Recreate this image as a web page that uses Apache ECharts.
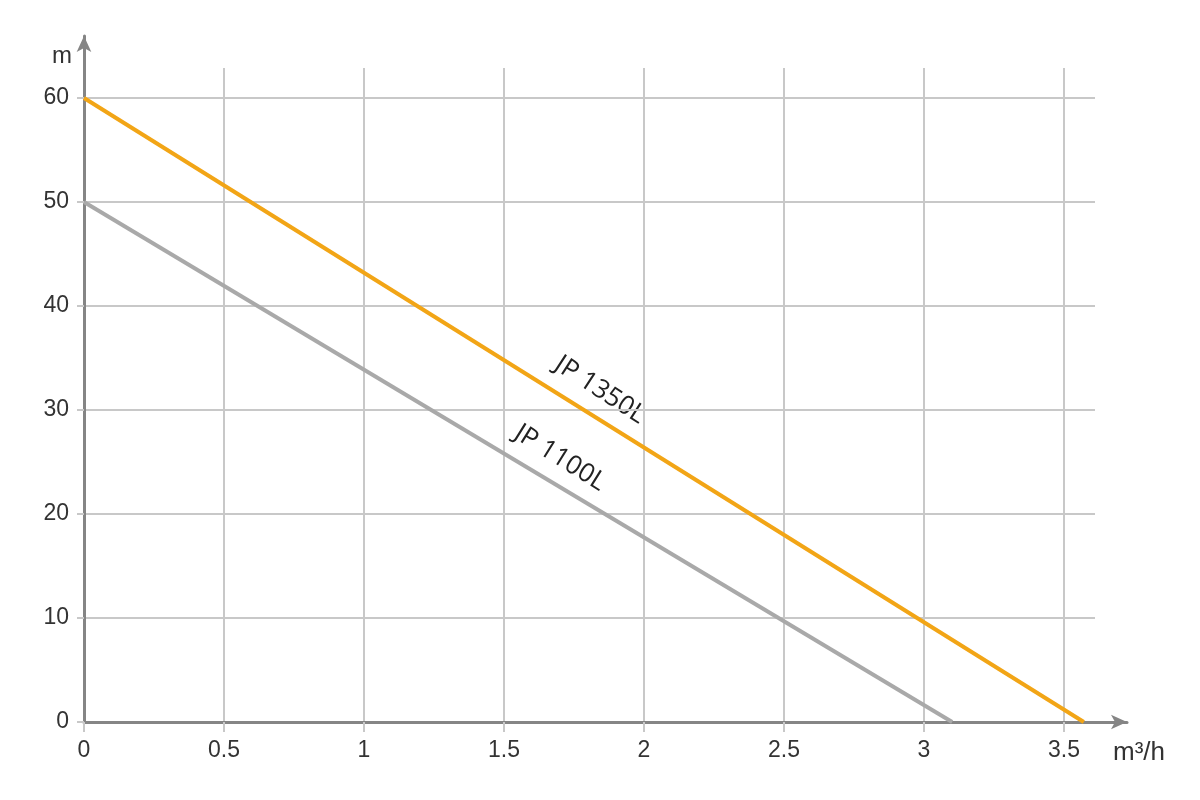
<!DOCTYPE html>
<html><head><meta charset="utf-8">
<script src="https://cdn.jsdelivr.net/npm/echarts@6/dist/echarts.min.js"></script>
<style>html,body{margin:0;padding:0;background:#fff}#c{width:1200px;height:800px}</style>
</head><body><div id="c"></div>
<script>
const xTicks = [0, 0.5, 1, 1.5, 2, 2.5, 3, 3.5];
const yTicks = [0, 10, 20, 30, 40, 50, 60];
const seriesNames = ['JP 1350L', 'JP 1100L'];
const jp1350 = [[0, 60], [3.57, 0]];
const jp1100 = [[0, 50], [3.1, 0]];
const xName = 'm³/h';
const yName = 'm';

const chart = echarts.init(document.getElementById('c'));
const font = 'Liberation Sans, Arial, sans-serif';
const gridColor = '#c8c8c8';
const axisColor = '#858585';
chart.setOption({
  animation: false,
  grid: [
    {left: 84, top: 98, width: 1011, height: 624},
    {left: 84, top: 68, width: 980, height: 654},
    {left: 84, top: 36, width: 1043, height: 686}
  ],
  xAxis: [
    {gridIndex: 0, type: 'value', min: 0, max: 3.61,
      axisLine: {show: false}, axisTick: {show: false}, axisLabel: {show: false}, splitLine: {show: false}},
    {gridIndex: 1, type: 'value', min: 0, max: 3.5, interval: 0.5,
      axisLine: {show: false},
      axisTick: {show: true, length: 10, lineStyle: {color: gridColor, width: 2}},
      axisLabel: {show: true, color: '#333', fontSize: 23, fontFamily: font, margin: 17,
        formatter: v => String(v)},
      splitLine: {show: true, lineStyle: {color: gridColor, width: 2}}},
    {gridIndex: 2, type: 'value', min: 0, max: 1,
      axisLine: {show: true, symbol: ['none', 'arrow'], symbolSize: [11, 16],
        lineStyle: {color: axisColor, width: 3}},
      axisTick: {show: false}, axisLabel: {show: false}, splitLine: {show: false}}
  ],
  yAxis: [
    {gridIndex: 0, type: 'value', min: 0, max: 60, interval: 10,
      axisLine: {show: false},
      axisTick: {show: true, length: 7, lineStyle: {color: gridColor, width: 2}},
      axisLabel: {show: true, color: '#333', fontSize: 23, fontFamily: font, margin: 15},
      splitLine: {show: true, lineStyle: {color: gridColor, width: 2}}},
    {gridIndex: 1, type: 'value', min: 0, max: 1, show: false},
    {gridIndex: 2, type: 'value', min: 0, max: 1,
      axisLine: {show: true, symbol: ['none', 'arrow'], symbolSize: [11, 16],
        lineStyle: {color: axisColor, width: 3}},
      axisTick: {show: false}, axisLabel: {show: false}, splitLine: {show: false}}
  ],
  series: [
    {name: seriesNames[1], type: 'line', xAxisIndex: 0, yAxisIndex: 0, data: jp1100,
      symbol: 'none', lineStyle: {color: '#a9a9a9', width: 4}, z: 5},
    {name: seriesNames[0], type: 'line', xAxisIndex: 0, yAxisIndex: 0, data: jp1350,
      symbol: 'none', lineStyle: {color: '#f2a516', width: 4}, z: 6}
  ],
  graphic: [
    {type: 'text', x: 62, y: 56, style: {text: yName, fontSize: 24, fontFamily: font, fill: '#333', align: 'center', verticalAlign: 'middle'}},
    {type: 'text', x: 1139, y: 753, style: {text: xName, fontSize: 26, fontFamily: font, fill: '#333', align: 'center', verticalAlign: 'middle'}},
    {type: 'text', x: 600, y: 390, rotation: -33 * Math.PI / 180,
      style: {text: seriesNames[0], fontSize: 26, fontFamily: 'Open Sans, sans-serif', fill: '#222', align: 'center', verticalAlign: 'middle'}},
    {type: 'text', x: 560, y: 458, rotation: -32 * Math.PI / 180,
      style: {text: seriesNames[1], fontSize: 26, fontFamily: 'Open Sans, sans-serif', fill: '#222', align: 'center', verticalAlign: 'middle'}}
  ]
});
</script></body></html>
